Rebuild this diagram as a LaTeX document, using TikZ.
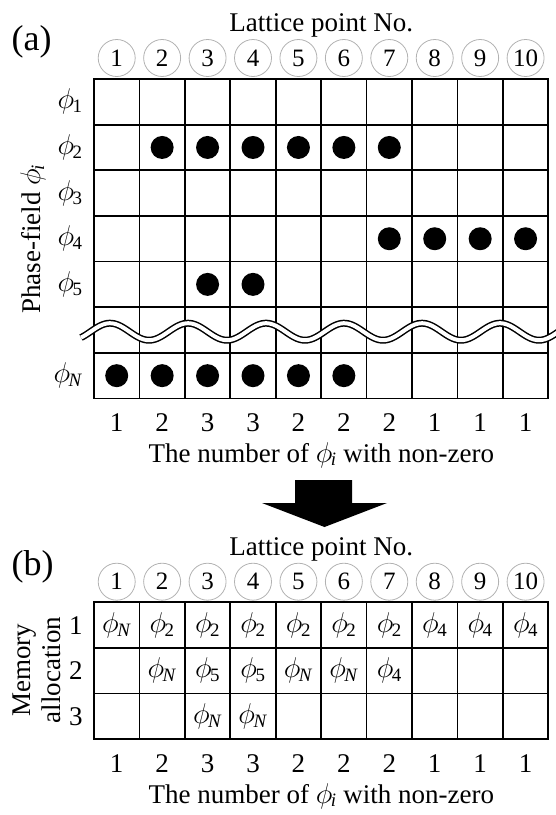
\documentclass[tikz,border=0pt]{standalone}
\usepackage{fontspec}
\setmainfont{Liberation Serif}
\usetikzlibrary{positioning}
\newcommand{\phii}[1]{\scalebox{1.15}{$\phi$}\kern-1.5pt\textsubscript{#1}}
\newcommand{\phN}{\phii{\textit{N}}}
\tikzset{
  bigtxt/.style={font=\fontsize{27}{30}\selectfont},
  panel/.style={font=\fontsize{36}{40}\selectfont},
  %% numbered lattice points
  lpnum/.style={draw=gray!60, circle, minimum size=37pt, inner sep=0pt,
    line width=0.8pt, font=\fontsize{25}{28}\selectfont},
  %% table cells
  cellbox/.style={draw, line width=1.8pt, minimum width=45.43pt,
    minimum height=45.6pt, inner sep=0pt},
  cellsym/.style={inner sep=0pt, font=\fontsize{27}{29}\selectfont},
  nzdot/.style={circle, fill=black, minimum size=23pt, inner sep=0pt},
  %% break line
  breakwave/.style={line width=1.5pt, double=white, double distance=4pt},
}

\begin{document}
\begin{tikzpicture}[x=1pt, y=-1pt, bigtxt]
\useasboundingbox (0,0) rectangle (555,815);

%% (a) Phase-field table
\node[panel, anchor=base west] (lblA) at (8,50) {(a)};
\node[anchor=base] (lpA) at (321.3,31) {Lattice point No.};
\foreach \i in {1,...,10}{
  \pgfmathsetmacro\cx{94+45.43*(\i-0.5)}
  \node[lpnum] (ca\i) at (\cx,58) {\i};
  \foreach \r in {1,...,7}{
    \pgfmathsetmacro\cy{79+45.64*(\r-0.5)}
    \node[cellbox] (a\r-\i) at (\cx,\cy) {};
  }
}
\foreach \r/\s in {1/1, 2/2, 3/3, 4/4, 5/5, 7/{\textit{N}}}
  \node[anchor=east] (pa\r) at ([xshift=-7pt]a\r-1.west) {\phii{\s}};
\node[rotate=90] (pfLab) at (33,239) {Phase-field \phii{\textit{i}}};

%% non-zero phase-fields
\foreach \r/\i in {2/2, 2/3, 2/4, 2/5, 2/6, 2/7, 4/7, 4/8, 4/9, 4/10,
                   5/3, 5/4, 7/1, 7/2, 7/3, 7/4, 7/5, 7/6}
  \node[nzdot] (d\r-\i) at (a\r-\i) {};

%% omitted rows
\draw[breakwave] plot[domain=81:560, samples=220]
  (\x, {331.7-8.5*cos(4.61538*(\x-110))});

%% counts
\foreach \i/\n in {1/1, 2/2, 3/3, 4/3, 5/2, 6/2, 7/2, 8/1, 9/1, 10/1}{
  \pgfmathsetmacro\cx{94+45.43*(\i-0.5)}
  \node[anchor=base] (na\i) at (\cx,431.7) {\n};
}
\node[anchor=base] (capA) at (321.3,462) {The number of \phii{\textit{i}} with non-zero};

%% block arrow
\fill (295,480) -- (352,480) -- (352,503) -- (387,503) -- (324.5,527)
  -- (262,503) -- (295,503) -- cycle;

%% (b) Memory allocation table
\node[panel, anchor=base west] (lblB) at (8,575) {(b)};
\node[anchor=base] (lpB) at (321.3,555) {Lattice point No.};
\foreach \i in {1,...,10}{
  \pgfmathsetmacro\cx{94+45.43*(\i-0.5)}
  \node[lpnum] (cb\i) at (\cx,581.7) {\i};
  \foreach \r in {1,2,3}{
    \pgfmathsetmacro\cy{602.3+45.57*(\r-0.5)}
    \node[cellbox] (b\r-\i) at (\cx,\cy) {};
  }
}
\foreach \r in {1,2,3}
  \node[anchor=east] (rb\r) at ([xshift=-7pt]b\r-1.west) {\r};
\node[rotate=90, align=center] (memLab) at (37,670) {Memory\\allocation};

\foreach \r/\i/\s in {1/1/\phN, 1/2/\phii{2}, 1/3/\phii{2}, 1/4/\phii{2},
    1/5/\phii{2}, 1/6/\phii{2}, 1/7/\phii{2}, 1/8/\phii{4}, 1/9/\phii{4},
    1/10/\phii{4}, 2/2/\phN, 2/3/\phii{5}, 2/4/\phii{5}, 2/5/\phN,
    2/6/\phN, 2/7/\phii{4}, 3/3/\phN, 3/4/\phN}
  \node[cellsym] (s\r-\i) at (b\r-\i) {\s};

\foreach \i/\n in {1/1, 2/2, 3/3, 4/3, 5/2, 6/2, 7/2, 8/1, 9/1, 10/1}{
  \pgfmathsetmacro\cx{94+45.43*(\i-0.5)}
  \node[anchor=base] (nb\i) at (\cx,772) {\n};
}
\node[anchor=base] (capB) at (321.3,803) {The number of \phii{\textit{i}} with non-zero};

\end{tikzpicture}
\end{document}
